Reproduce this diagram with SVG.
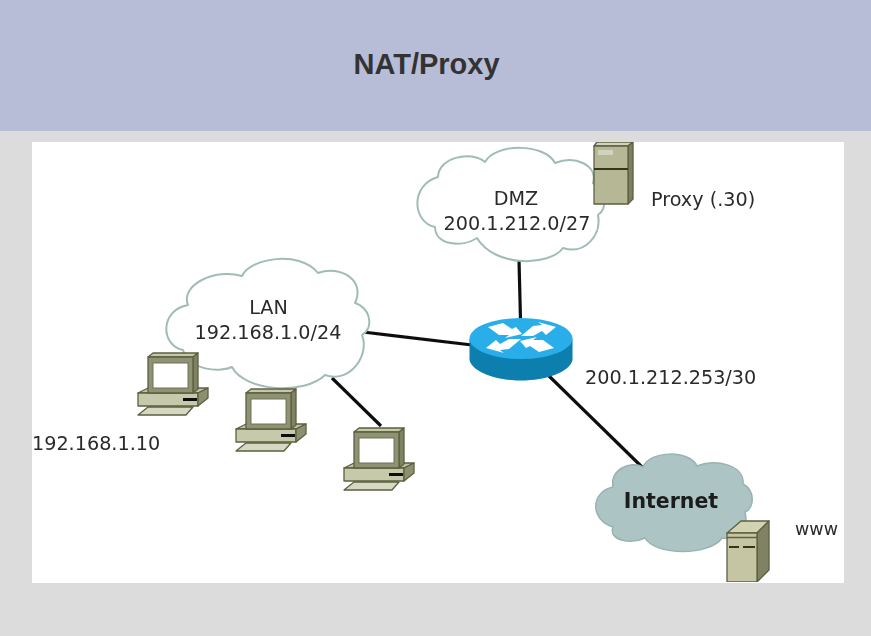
<svg xmlns="http://www.w3.org/2000/svg" width="871" height="636" viewBox="0 0 871 636">
<style>
.t{font-family:"DejaVu Sans",sans-serif;font-size:19.2px;fill:#2b2b2b}
.m{text-anchor:middle}
.cloud{fill:#fff;stroke:#9fbcb8;stroke-width:2;stroke-linejoin:round}
.c{stroke:#111;stroke-width:3.2;fill:none}
.d{stroke:#5c6040;stroke-width:1.3;stroke-linejoin:round}
</style>
<defs>
<filter id="soft" x="0" y="0" width="100%" height="100%"><feGaussianBlur stdDeviation="0.45"/></filter>
<path id="arrow" fill="#fff" d="M488 327L503 323L512 329L516 327L522 334L505 338L509 335L499 335Z"/>
<path id="arrow2" fill="#fff" d="M556 327L538 322L542 325L533 326L521 336L533 336L542 331L546 335Z"/>
<g id="pc">
<path class="d" fill="#c0c3a2" d="M-1 41L9 36H69L59 41Z"/>
<path class="d" fill="#c6c9aa" d="M-1 41H59V54H-1Z"/>
<path class="d" fill="#8d9070" d="M59 41L69 36V46L59 54Z"/>
<path class="d" fill="#c6c8a8" d="M9 5L14 1H59L54 5Z"/>
<path class="d" fill="#7f8263" d="M54 5L59 1V37L54 41Z"/>
<path class="d" fill="#8f9273" d="M9 5H54V41H9Z"/>
<rect x="14" y="11" width="35" height="25" fill="#fff" stroke="#6f7255"/>
<rect x="44" y="46" width="14" height="3" fill="#111"/>
<path class="d" fill="#d6d8c2" d="M9 55H54L47 63H-1Z"/>
</g>
</defs>
<rect width="871" height="636" fill="#dcdcdc"/>
<rect width="871" height="131" fill="#b8bdd7"/>
<text x="426.500" y="74" text-anchor="middle" style="font-family:'Liberation Sans',Arial,sans-serif;font-size:29px;font-weight:700;fill:#333">NAT/Proxy</text>
<rect x="32" y="142" width="812" height="441" fill="#fff"/>
<g filter="url(#soft)">
<g id="connectors">
<path class="c" d="M519 260L520.500 320"/>
<path class="c" d="M363 332L472 345"/>
<path class="c" d="M332 378L381 426"/>
<path class="c" d="M549 376L642 467"/>
</g>
<g id="lan">
<path class="cloud" d="M188 305C180 285 215 268 242 276C250 258 300 250 318 273C340 265 366 280 355 303C368 306 376 326 362 335C370 355 350 384 325 375C305 395 245 392 232 367C222 372 190 372 183 350C160 345 160 310 188 305Z"/>
<text class="t m" x="268.500" y="314">LAN</text>
<text class="t m" x="268" y="339">192.168.1.0/24</text>
</g>
<g id="dmz">
<path class="cloud" d="M438 177C438 158 470 150 485 162C495 143 545 143 555 163C575 155 598 165 593 183C606 190 608 208 598 215C602 235 585 255 563 248C550 266 495 268 477 238C462 248 435 245 435 227C412 222 410 185 438 177Z"/>
<text class="t m" x="516" y="205">DMZ</text>
<text class="t m" x="517" y="230">200.1.212.0/27</text>
</g>
<g id="proxy">
<path class="d" fill="#d1d3bc" d="M594 146L597 142H633L628 146Z"/>
<path class="d" fill="#7d8060" d="M628 146L633 142V199L628 204Z"/>
<rect class="d" fill="#b5b795" x="594" y="146" width="34" height="58"/>
<path d="M594 169H628" stroke="#34361f" stroke-width="2"/>
<rect x="598" y="150" width="15" height="5" fill="#d1d3bc"/>
<text class="t" x="651" y="206">Proxy (.30)</text>
</g>
<g id="router">
<path fill="#0a7fae" d="M469.500 339V360C472 372 496 380.500 521 380.500C546 380.500 570 372 572.500 360V339Z"/>
<ellipse cx="521" cy="338.500" rx="51.500" ry="20.500" fill="#29aeea"/>
<use href="#arrow"/>
<use href="#arrow" transform="rotate(180 521 337.500)"/>
<use href="#arrow2"/>
<use href="#arrow2" transform="rotate(180 521 337.500)"/>
</g>
<g id="pc1"><use href="#pc" x="139" y="352"/><text class="t" x="32" y="450">192.168.1.10</text></g>
<g id="pc2"><use href="#pc" x="237" y="388"/></g>
<g id="pc3"><use href="#pc" x="345" y="427"/></g>
<g id="cloud-internet">
<path d="M613 487C610 470 630 460 643 467C650 450 690 450 697 466C715 458 745 465 743 484C755 490 755 508 745 512C750 530 735 540 722 538C710 556 655 556 645 538C630 545 608 540 613 527C590 520 590 492 613 487Z" fill="#acc4c3" stroke="#98b3b1" stroke-width="1.500"/>
<text x="671" y="508" text-anchor="middle" style="font-family:'DejaVu Sans',sans-serif;font-size:20.500px;font-weight:700;fill:#1a1a1a">Internet</text>
</g>
<g id="www">
<path class="d" fill="#d2d3b3" d="M727 533L741 521H769L757 533Z"/>
<path class="d" fill="#7f8263" d="M757 533L769 521V570L757 582Z"/>
<path class="d" fill="#c5c5a3" d="M727 533H757V582H727Z"/>
<path d="M727 537.500H757" stroke="#5c6040" stroke-width="1.500"/>
<path d="M729 547H739M743 547H755" stroke="#34361f" stroke-width="2"/>
<text x="795" y="535" style="font-family:'DejaVu Sans',sans-serif;font-size:17.500px;fill:#2b2b2b">www</text>
</g>
<text class="t" x="585" y="384">200.1.212.253/30</text>
</g>
</svg>
